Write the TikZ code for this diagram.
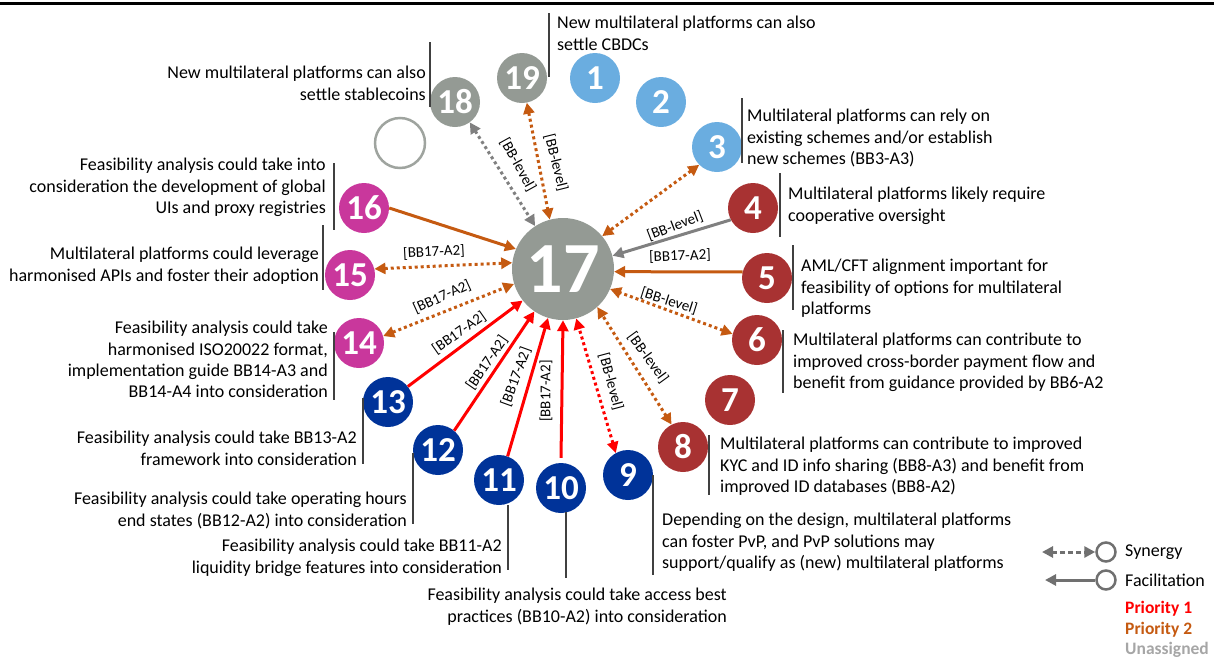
\documentclass[tikz,border=0pt]{standalone}
\usepackage{fontspec}
\setmainfont{Carlito}
\usetikzlibrary{arrows.meta}
\definecolor{cgray}{HTML}{949A94}
\definecolor{cblue}{HTML}{6AADE0}
\definecolor{cred}{HTML}{A83232}
\definecolor{cnavy}{HTML}{003399}
\definecolor{cmag}{HTML}{C9379C}
\definecolor{corange}{HTML}{C55A11}
\definecolor{cline}{HTML}{808080}
\definecolor{legray}{HTML}{707070}
\definecolor{pgray}{HTML}{A6A6A6}
\begin{document}
\begin{tikzpicture}[x=1pt,y=-1pt,
  >={Triangle[length=11pt,width=11pt]},
  bub/.style={circle, minimum size=50pt, inner sep=0pt, text=white, font=\bfseries\fontsize{35}{35}\selectfont},
  desc/.style={inner sep=0pt, font=\fontsize{18}{21.4}\selectfont, text=black},
  descL/.style={desc, align=left, anchor=north west},
  descR/.style={desc, align=right, anchor=north east},
  bar/.style={draw=black!75, line width=1.1pt},
  lbl/.style={inner sep=0pt, font=\fontsize{15}{15}\selectfont, text=black},
  syn/.style={<->, line width=3pt, dash pattern=on 3pt off 3pt},
  fac/.style={->, line width=3pt},
  legtxt/.style={inner sep=0pt, anchor=west, font=\fontsize{18}{18}\selectfont},
  prio/.style={legtxt, font=\bfseries\fontsize{17.5}{17.5}\selectfont}
]
\useasboundingbox (0,0) rectangle (1214,659);
\draw[line width=2.7pt] (0,3.5) -- (1214,3.5);

% circles
\node[bub, fill=cgray, minimum size=102pt, font=\bfseries\fontsize{72}{72}\selectfont] (n17) at (563,269) {17};
\node[bub, fill=cblue] (n1) at (595,78) {1};
\node[bub, fill=cblue] (n2) at (661,102) {2};
\node[bub, fill=cblue] (n3) at (717,147) {3};
\node[bub, fill=cred] (n4) at (753,208) {4};
\node[bub, fill=cred] (n5) at (767,278) {5};
\node[bub, fill=cred] (n6) at (757,340) {6};
\node[bub, fill=cred] (n7) at (730,400) {7};
\node[bub, fill=cred] (n8) at (683,447) {8};
\node[bub, fill=cnavy] (n9) at (628,475) {9};
\node[bub, fill=cnavy] (n10) at (561,488) {10};
\node[bub, fill=cnavy] (n11) at (499,480) {11};
\node[bub, fill=cnavy] (n12) at (438,450) {12};
\node[bub, fill=cnavy] (n13) at (388,402) {13};
\node[bub, fill=cmag] (n14) at (359,343) {14};
\node[bub, fill=cmag] (n15) at (350,275) {15};
\node[bub, fill=cmag] (n16) at (364,208) {16};
\node[bub, fill=cgray] (n18) at (455,102) {18};
\node[bub, fill=cgray] (n19) at (522,78) {19};
\node[circle, draw=cgray!90, line width=2.5pt, minimum size=50pt, inner sep=0pt] (n0) at (400,143) {};

% connectors
\draw[syn, cline] (n18.-54) -- (n17.123);
\draw[syn, corange] (n19.-79) -- (n17.105);
\draw[syn, corange] (n3.225) -- (n17.40);
\draw[fac, cline] (n4.208) -- (n17.15);
\draw[fac, corange] (n5.166) -- (n17.-3);
\draw[syn, corange] (n6.166) -- (n17.-23);
\draw[syn, corange] (n8.117) -- (n17.-48);
\draw[syn, red] (n9.119) -- (n17.-75);
\draw[fac, red] ([yshift=5pt]n10.north) -- (n17.south);
\draw[fac, red] (n11.70) -- (n17.-107);
\draw[fac, red] (n12.50) -- (n17.-124);
\draw[fac, red] (n13.38) -- (n17.-142);
\draw[syn, corange] (n14.16) -- (n17.-163);
\draw[syn, corange] (n15.14) -- (n17.173);
\draw[fac, corange] (n16.0) -- (n17.157);

% connector labels
\node[lbl, rotate=-61] (l18) at (518,165) {[BB-level]};
\node[lbl, rotate=-76] (l19) at (556,163) {[BB-level]};
\node[lbl, rotate=21] (l4) at (675,226) {[BB-level]};
\node[lbl, rotate=2] (l5) at (680,256) {[BB17-A2]};
\node[lbl, rotate=-17.5] (l6) at (669,301) {[BB-level]};
\node[lbl, rotate=-54] (l8) at (648,358) {[BB-level]};
\node[lbl, rotate=-75] (l9) at (611,382) {[BB-level]};
\node[lbl, rotate=90] (l10) at (546,391) {[BB17-A2]};
\node[lbl, rotate=70] (l11) at (516,377) {[BB17-A2]};
\node[lbl, rotate=55.5] (l12) at (487,363) {[BB17-A2]};
\node[lbl, rotate=35] (l13) at (459,333) {[BB17-A2]};
\node[lbl, rotate=24.5] (l14) at (442,297) {[BB17-A2]};
\node[lbl, rotate=3] (l15) at (434,252) {[BB17-A2]};

% descriptions
\node[descR] (t18) at (426,66) {New multilateral platforms can also\\settle stablecoins};
\draw[bar] (430,42) -- (430,107);
\node[descL] (t19) at (557,16) {New multilateral platforms can also\\settle CBDCs};
\draw[bar] (549,13) -- (549,77);
\node[descL] (t3) at (747,109) {Multilateral platforms can rely on\\existing schemes and/or establish\\new schemes (BB3-A3)};
\draw[bar] (742,98) -- (742,163);
\node[descL] (t4) at (788,187) {Multilateral platforms likely require\\cooperative oversight};
\draw[bar] (780,173) -- (780,237);
\node[descL] (t5) at (801,259) {AML/CFT alignment important for\\feasibility of options for multilateral\\platforms};
\draw[bar] (793,245) -- (793,310);
\node[descL] (t6) at (793,333) {Multilateral platforms can contribute to\\improved cross-border payment flow and\\benefit from guidance provided by BB6-A2};
\draw[bar] (783,330) -- (783,393);
\node[descL] (t8) at (720,437) {Multilateral platforms can contribute to improved\\KYC and ID info sharing (BB8-A3) and benefit from\\improved ID databases (BB8-A2)};
\draw[bar] (709,435) -- (709,495);
\node[descL] (t9) at (662,513) {Depending on the design, multilateral platforms\\can foster PvP, and PvP solutions may\\support/qualify as (new) multilateral platforms};
\draw[bar] (653,475) -- (653,575);
\node[descR] (t10) at (727,588) {Feasibility analysis could take access best\\practices (BB10-A2) into consideration};
\draw[bar] (566,512) -- (566,578);
\node[descR] (t11) at (502,539) {Feasibility analysis could take BB11-A2\\liquidity bridge features into consideration};
\draw[bar] (508,505) -- (508,570);
\node[descR] (t12) at (407,492) {Feasibility analysis could take operating hours\\end states (BB12-A2) into consideration};
\draw[bar] (413,453) -- (413,524);
\node[descR] (t13) at (357,431) {Feasibility analysis could take BB13-A2\\framework into consideration};
\draw[bar] (363,398) -- (363,464);
\node[descR] (t14) at (328,321) {Feasibility analysis could take\\harmonised ISO20022 format,\\implementation guide BB14-A3 and\\BB14-A4 into consideration};
\draw[bar] (334,332) -- (334,400);
\node[descR] (t15) at (319,247) {Multilateral platforms could leverage\\harmonised APIs and foster their adoption};
\draw[bar] (323,225) -- (323,290);
\node[descR] (t16) at (326,158) {Feasibility analysis could take into\\consideration the development of global\\UIs and proxy registries};
\draw[bar] (334,163) -- (334,230);

% legend
\node[circle, draw=legray, line width=2.5pt, minimum size=19pt, inner sep=0pt] (lc1) at (1106,552) {};
\node[circle, draw=legray, line width=2.5pt, minimum size=19pt, inner sep=0pt] (lc2) at (1106,580) {};
\coordinate (la1) at (1042,552);
\coordinate (la2) at (1045,580);
\draw[<->, line width=3pt, dash pattern=on 5pt off 3pt, legray] (la1) -- (lc1.west);
\draw[->, line width=3pt, legray] (lc2.west) -- (la2);
\node[legtxt] (g1) at (1125,552) {Synergy};
\node[legtxt] (g2) at (1125,580) {Facilitation};
\node[prio, text=red] (g3) at (1125,609) {Priority 1};
\node[prio, text=corange] (g4) at (1125,630) {Priority 2};
\node[prio, text=pgray] (g5) at (1125,650) {Unassigned};
\end{tikzpicture}
\end{document}
